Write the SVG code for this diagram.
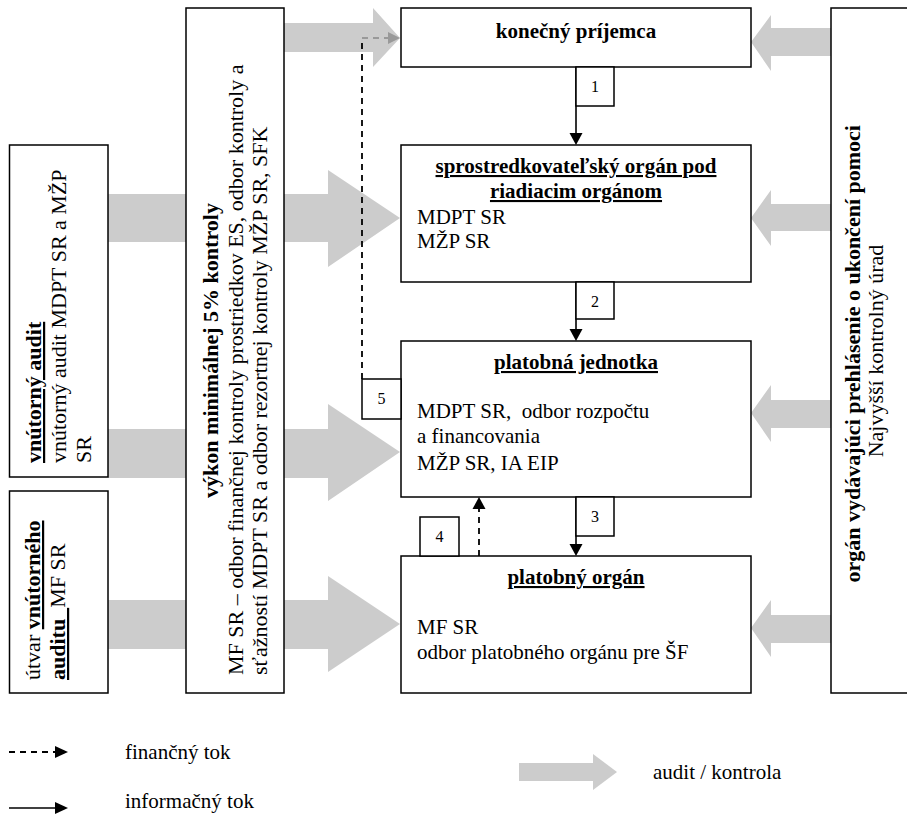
<svg xmlns="http://www.w3.org/2000/svg" width="907" height="818" viewBox="0 0 907 818">
<defs>
<style>
.box{fill:#fff;stroke:#000;stroke-width:1.5}
.fat{fill:#cccccc}
.t{font-family:"Liberation Serif","Times New Roman",serif;font-size:21px;fill:#000}
.v{font-family:"Liberation Serif","Times New Roman",serif;font-size:22px;fill:#000}
.b{font-weight:bold}
.u{text-decoration:underline}
.n{font-family:"Liberation Serif","Times New Roman",serif;font-size:16px;fill:#000;text-anchor:middle}
.c{text-anchor:middle}
.info{stroke:#000;stroke-width:1.6;fill:none}
.fin{stroke:#000;stroke-width:1.8;fill:none;stroke-dasharray:6,5}
.head{fill:#000}
</style>
</defs>
<rect width="907" height="818" fill="#fff"/>

<g id="audit-arrows">
<polygon class="fat" points="284,23 373,23 373,8 400,38 373,67 373,52 284,52"/>
<polygon class="fat" points="108,194 328,194 328,170 400,218 328,267 328,242 108,242"/>
<polygon class="fat" points="108,429 328,429 328,404 400,452 328,501 328,478 108,478"/>
<polygon class="fat" points="108,600 328,600 328,576 400,624 328,672 328,649 108,649"/>
<polygon class="fat" points="832,28 771,28 771,15 751,42 771,71 771,56 832,56"/>
<polygon class="fat" points="832,204 771,204 771,190 751,218 771,246 771,231 832,231"/>
<polygon class="fat" points="832,400 771,400 771,385 751,413 771,442 771,428 832,428"/>
<polygon class="fat" points="832,615 771,615 771,600 751,628 771,657 771,643 832,643"/>
</g>

<g id="box-vnutorny-audit">
<rect class="box" x="9.5" y="145" width="98.5" height="332"/>
<text class="v" transform="translate(0,463) rotate(-90)">
<tspan x="0" y="41" class="b u">vnútorný audit</tspan>
<tspan x="0" y="66">vnútorný audit MDPT SR a MŽP</tspan>
<tspan x="0" y="91">SR</tspan>
</text>
</g>

<g id="box-utvar">
<rect class="box" x="9.5" y="491" width="98.5" height="202"/>
<text class="v" transform="translate(0,680) rotate(-90)" xml:space="preserve"><tspan x="0" y="40">útvar </tspan><tspan class="b u">vnútorného</tspan><tspan x="0" y="65" class="b u">auditu  </tspan><tspan>MF SR</tspan></text>
</g>

<g id="box-vykon">
<rect class="box" x="186" y="8" width="98" height="685"/>
<text class="v b c" transform="translate(0,350.5) rotate(-90)" x="0" y="218">výkon minimálnej 5% kontroly</text>
<text class="v" transform="translate(0,675) rotate(-90)">
<tspan x="0" y="243">MF SR – odbor finančnej kontroly prostriedkov ES, odbor kontroly a</tspan>
<tspan x="0" y="267">sťažností MDPT SR a odbor rezortnej kontroly MŽP SR,  SFK</tspan>
</text>
</g>

<g id="box-konecny">
<rect class="box" x="401" y="8" width="350" height="59"/>
<text class="t b c" x="576" y="38">konečný príjemca</text>
</g>

<g id="box-sprostredkovatelsky">
<rect class="box" x="401" y="145" width="350" height="137"/>
<text class="t b u c" x="576" y="173">sprostredkovateľský orgán pod</text>
<text class="t b u c" x="576" y="198">riadiacim orgánom</text>
<text class="t" x="417" y="224">MDPT SR</text>
<text class="t" x="417" y="248">MŽP SR</text>
</g>

<g id="box-platobna-jednotka">
<rect class="box" x="401" y="341" width="350" height="156"/>
<text class="t b u c" x="576" y="369">platobná jednotka</text>
<text class="t" x="417" y="418" xml:space="preserve">MDPT SR,  odbor rozpočtu</text>
<text class="t" x="417" y="443">a financovania</text>
<text class="t" x="417" y="470">MŽP SR, IA EIP</text>
</g>

<g id="box-platobny-organ">
<rect class="box" x="401" y="556" width="350" height="137"/>
<text class="t b u c" x="576" y="584">platobný orgán</text>
<text class="t" x="417" y="634">MF SR</text>
<text class="t" x="417" y="659">odbor platobného orgánu pre ŠF</text>
</g>

<g id="box-organ-vydavajuci">
<rect class="box" x="831" y="8" width="100" height="685"/>
<text class="v c" transform="translate(0,351) rotate(-90)">
<tspan x="0" y="860" class="b">orgán vydávajúci prehlásenie o ukončení pomoci</tspan>
<tspan x="0" y="883">Najvyšší kontrolný úrad</tspan>
</text>
</g>

<g id="connectors">
<line class="info" x1="576" y1="67" x2="576" y2="134"/>
<polygon class="head" points="569.5,133 582.5,133 576,145"/>
<rect class="box" x="576" y="67" width="38" height="39"/>
<text class="n" x="595" y="92">1</text>

<line class="info" x1="576" y1="282" x2="576" y2="330"/>
<polygon class="head" points="569.5,329 582.5,329 576,341"/>
<rect class="box" x="576" y="282" width="38" height="37"/>
<text class="n" x="595" y="307">2</text>

<line class="info" x1="576" y1="497" x2="576" y2="545"/>
<polygon class="head" points="569.5,544 582.5,544 576,556"/>
<rect class="box" x="576" y="497" width="38" height="39"/>
<text class="n" x="595" y="522">3</text>

<line class="fin" x1="479" y1="556" x2="479" y2="508"/>
<polygon class="head" points="472.5,509 485.5,509 479,497"/>
<rect class="box" x="420" y="517" width="39" height="39"/>
<text class="n" x="439.5" y="542">4</text>

<polyline class="fin" points="362,379 362,38"/>
<line x1="362" y1="38" x2="389" y2="38" stroke="#999" stroke-width="1.8" stroke-dasharray="6,5"/>
<polygon points="388,32 400,38 388,44" fill="#999"/>
<rect class="box" x="362" y="379" width="39" height="40"/>
<text class="n" x="381.5" y="404">5</text>
</g>

<g id="legend">
<line class="fin" x1="9" y1="752" x2="55" y2="752"/>
<polygon class="head" points="55,746 68,752 55,758"/>
<text class="t" x="125" y="759">finančný tok</text>
<line class="info" x1="9" y1="808" x2="56" y2="808"/>
<polygon class="head" points="55,802 68,808 55,814"/>
<text class="t" x="125" y="808">informačný tok</text>
<polygon class="fat" points="519,763 593,763 593,754 617,772 593,790 593,781 519,781"/>
<text class="t" x="653" y="779">audit / kontrola</text>
</g>
</svg>
